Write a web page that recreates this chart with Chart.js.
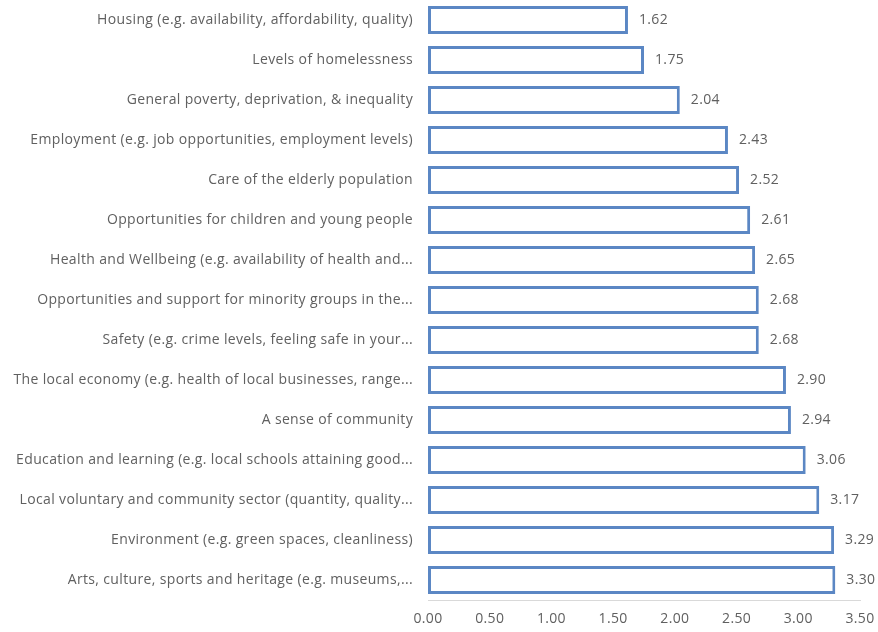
<!DOCTYPE html>
<html>
<head>
<meta charset="utf-8">
<script src="https://cdn.jsdelivr.net/npm/chart.js@4/dist/chart.umd.min.js"></script>
<style>
  html, body { margin: 0; padding: 0; background: #fff; }
  #wrap { width: 878px; height: 632px; }
</style>
</head>
<body>
<div id="wrap"><canvas id="barChart"></canvas></div>
<script>
const categories = [
    'Housing (e.g. availability, affordability, quality)',
    'Levels of homelessness',
    'General poverty, deprivation, & inequality',
    'Employment (e.g. job opportunities, employment levels)',
    'Care of the elderly population',
    'Opportunities for children and young people',
    'Health and Wellbeing (e.g. availability of health and...',
    'Opportunities and support for minority groups in the...',
    'Safety (e.g. crime levels, feeling safe in your...',
    'The local economy (e.g. health of local businesses, range...',
    'A sense of community',
    'Education and learning (e.g. local schools attaining good...',
    'Local voluntary and community sector (quantity, quality...',
    'Environment (e.g. green spaces, cleanliness)',
    'Arts, culture, sports and heritage (e.g. museums,...'
];
const scores = [1.62, 1.75, 2.04, 2.43, 2.52, 2.61, 2.65, 2.68, 2.68, 2.90, 2.94, 3.06, 3.17, 3.29, 3.30];
const xTicks = [0, 0.5, 1, 1.5, 2, 2.5, 3, 3.5];

const textColor = '#606060';
const fontFamily = '"Open Sans", "Liberation Sans", sans-serif';
const fontSize = 14;

// the original text is set a little loose, so widen the letter spacing
const spacing = {
    id: 'spacing',
    beforeDraw(chart) { chart.ctx.letterSpacing = '0.35px'; },
    afterDraw(chart) { chart.ctx.letterSpacing = '0px'; }
};

// value labels at the end of each bar
const valueLabels = {
    id: 'valueLabels',
    afterDatasetsDraw(chart) {
        const ctx = chart.ctx;
        const meta = chart.getDatasetMeta(0);
        ctx.save();
        ctx.font = fontSize + 'px ' + fontFamily;
        ctx.fillStyle = textColor;
        ctx.textAlign = 'left';
        ctx.textBaseline = 'middle';
        meta.data.forEach((bar, i) => {
            ctx.fillText(scores[i].toFixed(2), bar.x + 11, bar.y);
        });
        ctx.restore();
    }
};

new Chart(document.getElementById('barChart'), {
    type: 'bar',
    data: {
        labels: categories,
        datasets: [{
            data: scores,
            backgroundColor: '#ffffff',
            borderColor: '#5b87c4',
            borderWidth: 3,
            borderSkipped: false,
            barPercentage: 0.7,
            categoryPercentage: 1.0
        }]
    },
    options: {
        indexAxis: 'y',
        responsive: true,
        maintainAspectRatio: false,
        animation: false,
        layout: { padding: { top: 0, right: 18, bottom: 0, left: 0 } },
        plugins: {
            legend: { display: false },
            tooltip: { enabled: false }
        },
        scales: {
            x: {
                min: 0,
                max: 3.5,
                afterBuildTicks: (scale) => { scale.ticks = xTicks.map(v => ({ value: v })); },
                grid: { display: false, drawTicks: false },
                border: { display: true, color: '#d9d9d9', width: 1 },
                ticks: {
                    padding: 11,
                    color: textColor,
                    font: { family: fontFamily, size: fontSize },
                    callback: (v) => Number(v).toFixed(2)
                },
                afterFit: (scale) => {
                    scale.height = 32;
                    scale.paddingLeft = 0;
                    scale.paddingRight = 0;
                }
            },
            y: {
                grid: { display: false, drawTicks: false },
                border: { display: false },
                ticks: {
                    padding: 15,
                    color: textColor,
                    font: { family: fontFamily, size: fontSize },
                    autoSkip: false
                },
                afterFit: (scale) => {
                    scale.width = 428;
                    scale.paddingTop = 0;
                    scale.paddingBottom = 0;
                }
            }
        }
    },
    plugins: [spacing, valueLabels]
});
</script>
</body>
</html>
